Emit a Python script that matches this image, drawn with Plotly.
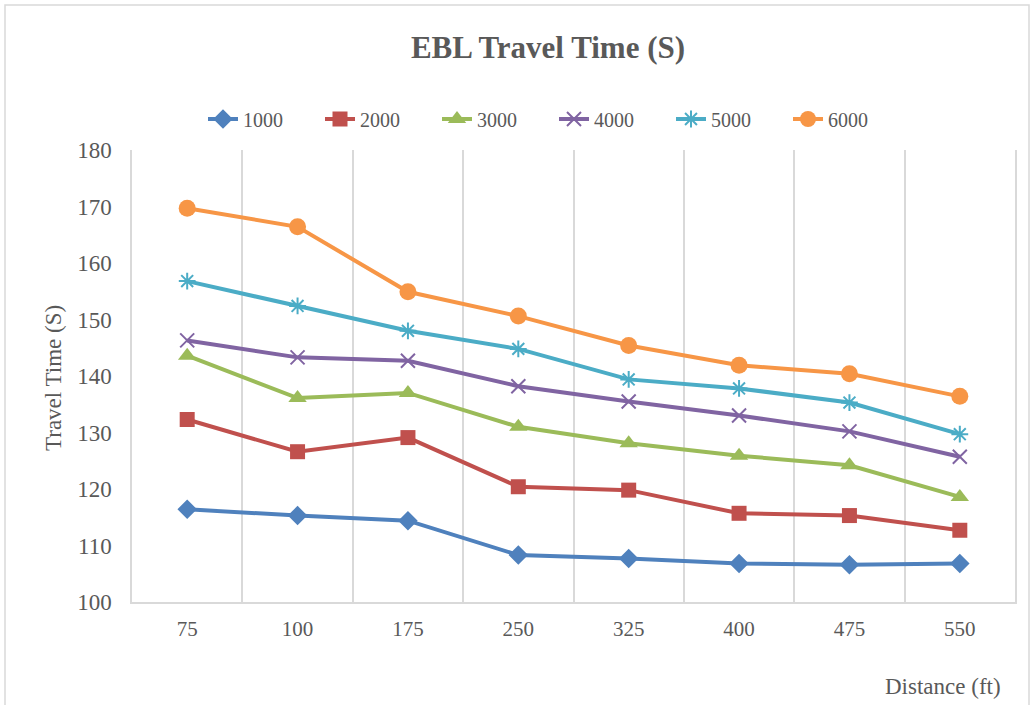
import plotly.graph_objects as go

distances = ["75", "100", "175", "250", "325", "400", "475", "550"]
series_names = ["1000", "2000", "3000", "4000", "5000", "6000"]
s1000 = [116.4, 115.3, 114.4, 108.3, 107.7, 106.8, 106.6, 106.8]
s2000 = [132.3, 126.6, 129.1, 120.4, 119.8, 115.7, 115.3, 112.7]
s3000 = [143.6, 136.1, 137.0, 131.0, 128.1, 125.9, 124.2, 118.6]
s4000 = [146.3, 143.3, 142.7, 138.2, 135.5, 133.0, 130.2, 125.7]
s5000 = [156.8, 152.4, 148.0, 144.8, 139.4, 137.8, 135.3, 129.7]
s6000 = [169.7, 166.4, 154.9, 150.6, 145.4, 141.9, 140.4, 136.4]
series_values = [s1000, s2000, s3000, s4000, s5000, s6000]

colors = ["#4F81BD", "#C0504D", "#9BBB59", "#8064A2", "#4BACC6", "#F79646"]
symbols = ["diamond", "square", "triangle-up", "x-thin-open", "asterisk-open", "circle"]
msizes = [15, 15, 16, 14, 14, 17]

fig = go.Figure()
for name, vals, c, sym, ms in zip(series_names, series_values, colors, symbols, msizes):
    open_sym = sym.endswith("open")
    fig.add_trace(go.Scatter(
        x=distances, y=vals, name=name, mode="lines+markers",
        line=dict(color=c, width=4),
        marker=dict(symbol=sym, size=ms, color=c,
                    line=dict(color=c, width=2 if open_sym else 0)),
    ))

font_family = "Liberation Serif"
L, R, T, B = 132, 17, 150, 103
W, H = 1032, 705
pw, ph = W - L - R, H - T - B

fig.update_layout(
    width=W, height=H,
    margin=dict(l=L, r=R, t=T, b=B),
    paper_bgcolor="white", plot_bgcolor="white",
    font=dict(family=font_family, color="#595959", size=20),
    title=dict(text="<b>EBL Travel Time (S)</b>", x=(548) / W, xanchor="center",
               y=1 - 47 / H, yref="container", yanchor="middle",
               font=dict(family=font_family, size=31, color="#595959")),
    legend=dict(orientation="h", x=(554 - L) / pw, xanchor="center", y=(602 - 119) / ph,
                yanchor="middle", font=dict(size=20, color="#595959"),
                entrywidth=72, entrywidthmode="pixels",
                tracegroupgap=0, bgcolor="rgba(0,0,0,0)"),
    xaxis=dict(type="category", tickson="boundaries", showgrid=True,
               gridcolor="#D9D9D9", gridwidth=1.5, showline=True, linecolor="#D9D9D9",
               linewidth=1.5, ticks="", tickfont=dict(size=21, color="#595959"),
               ticklabelstandoff=7, zeroline=False, range=[-0.5, 7.5]),
    yaxis=dict(range=[100, 180], dtick=10, showgrid=False, showline=True,
               linecolor="#D9D9D9", linewidth=1.5, mirror=True,
               zeroline=False, ticks="", tickfont=dict(size=23, color="#595959"),
               ticklabelstandoff=14),
    showlegend=True,
)

fig.add_annotation(text="Travel Time (S)", xref="paper", yref="paper", textangle=-90,
                   x=(53 - L) / pw, y=(602 - 378) / ph, xanchor="center", yanchor="middle",
                   showarrow=False, font=dict(size=23, color="#595959"))

fig.add_annotation(text="Distance (ft)", xref="paper", yref="paper",
                   x=(943 - L) / pw, y=(602 - 686) / ph, xanchor="center", yanchor="middle",
                   showarrow=False, font=dict(size=23, color="#595959"))

fig.add_shape(type="rect", xref="paper", yref="paper",
              x0=(5 - L) / pw, x1=(1029 - L) / pw, y0=(602 - 708) / ph, y1=(602 - 5) / ph,
              line=dict(color="#D9D9D9", width=1.5), fillcolor="rgba(0,0,0,0)", layer="below")

fig.write_html("out.html", post_script="document.body.style.margin='0';",
               config={"displayModeBar": False})
